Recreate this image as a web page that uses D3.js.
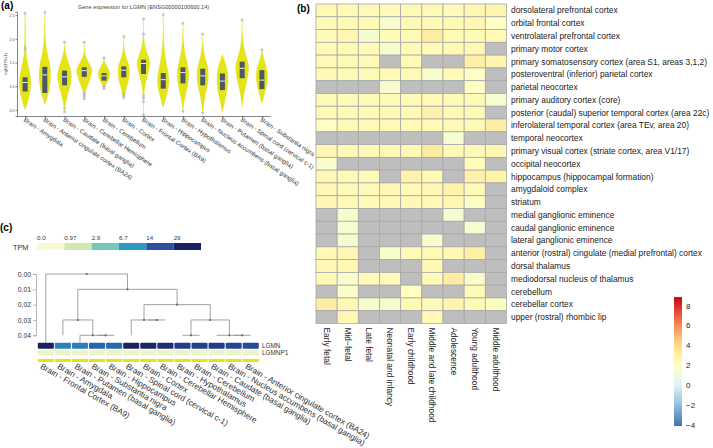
<!DOCTYPE html>
<html><head><meta charset="utf-8">
<script src="https://cdn.jsdelivr.net/npm/d3@7"></script>
<style>body{margin:0;background:#fff}svg{display:block;font-family:"Liberation Sans",Arial,sans-serif}</style>
</head><body><svg id="c" width="713" height="448"></svg>
<script>
// ---------- (a) violin data ----------
const violinTissues = ["Brain - Amygdala","Brain - Anterior cingulate cortex (BA24)","Brain - Caudate (basal ganglia)","Brain - Cerebellar Hemisphere","Brain - Cerebellum","Brain - Cortex","Brain - Frontal Cortex (BA9)","Brain - Hippocampus","Brain - Hypothalamus","Brain - Nucleus accumbens (basal ganglia)","Brain - Putamen (basal ganglia)","Brain - Spinal cord (cervical c-1)","Brain - Substantia nigra"];
const violinDensity = [
 [[2.55,0],[2.2,0.04],[1.9,0.07],[1.6,0.2],[1.45,0.39],[1.3,0.58],[1.1,0.74],[0.9,0.65],[0.75,0.45],[0.6,0.2],[0.5,0]],
 [[2.55,0],[2.2,0.05],[1.9,0.13],[1.7,0.32],[1.5,0.58],[1.3,0.74],[1.1,0.71],[0.9,0.52],[0.75,0.26],[0.62,0]],
 [[1.93,0],[1.75,0.1],[1.55,0.39],[1.4,0.71],[1.25,0.88],[1.05,0.78],[0.85,0.45],[0.65,0.16],[0.46,0]],
 [[1.93,0],[1.7,0.08],[1.55,0.39],[1.42,0.84],[1.32,1.0],[1.2,0.84],[1.05,0.52],[0.9,0.19],[0.72,0]],
 [[1.6,0],[1.5,0.13],[1.4,0.45],[1.3,0.71],[1.2,0.71],[1.1,0.45],[1.0,0.13],[0.93,0]],
 [[2.05,0],[1.8,0.06],[1.6,0.32],[1.45,0.65],[1.32,0.75],[1.15,0.65],[0.95,0.32],[0.8,0.13],[0.72,0]],
 [[2.42,0],[2.1,0.04],[1.85,0.19],[1.65,0.58],[1.5,0.82],[1.35,0.71],[1.2,0.45],[1.0,0.19],[0.8,0.06],[0.4,0]],
 [[2.5,0],[2.1,0.04],[1.8,0.13],[1.5,0.39],[1.3,0.62],[1.1,0.74],[0.9,0.58],[0.7,0.26],[0.55,0]],
 [[2.33,0],[2.0,0.05],[1.7,0.26],[1.5,0.52],[1.3,0.74],[1.1,0.68],[0.9,0.45],[0.7,0.19],[0.47,0]],
 [[2.1,0],[1.85,0.06],[1.6,0.32],[1.4,0.65],[1.2,0.74],[1.0,0.58],[0.8,0.32],[0.6,0.13],[0.4,0]],
 [[1.68,0],[1.6,0.13],[1.45,0.45],[1.3,0.65],[1.1,0.71],[0.9,0.58],[0.7,0.32],[0.55,0.13],[0.45,0]],
 [[2.4,0],[2.1,0.04],[1.8,0.26],[1.6,0.58],[1.4,0.84],[1.2,0.71],[1.0,0.45],[0.8,0.19],[0.57,0]],
 [[1.77,0],[1.65,0.13],[1.5,0.39],[1.35,0.65],[1.2,0.74],[1.0,0.58],[0.8,0.26],[0.63,0]]
];
const violinQ1 =     [0.89,0.86,1.02,1.20,1.12,1.19,1.26,0.95,1.06,1.02,0.92,1.17,0.94];
const violinMedian = [1.08,1.24,1.20,1.33,1.22,1.34,1.48,1.14,1.29,1.22,1.11,1.38,1.13];
const violinQ3 =     [1.19,1.41,1.33,1.40,1.28,1.42,1.56,1.28,1.40,1.37,1.27,1.52,1.34];
const violinOutliers = [[2.54,1.82,1.78],[2.56],[1.93,0.53,0.46],[1.93,0.85,0.82,0.78,0.73],[1.6,1.0,0.97,0.95],[2.05,0.85,0.8,0.77],[2.42,2.1,0.8,0.75,0.68,0.4],[2.51],[2.33,0.47],[2.1,0.44],[],[2.4],[1.77]];
const yTicksA = [0.5,1.0,1.5,2.0,2.5];

// ---------- (b) heatmap data ----------
const devStages = ["Early fetal","Mid\u2212fetal","Late fetal","Neonatal and infancy","Early childhood","Middle and late childhood","Adolescence","Young adulthood","Middle adulthood"];
const brainRegions = ["dorsolateral prefrontal cortex","orbital frontal cortex","ventrolateral prefrontal cortex","primary motor cortex","primary somatosensory cortex (area S1, areas 3,1,2)","posteroventral (inferior) parietal cortex","parietal neocortex","primary auditory cortex (core)","posterior (caudal) superior temporal cortex (area 22c)","inferolateral temporal cortex (area TEv, area 20)","temporal neocortex","primary visual cortex (striate cortex, area V1/17)","occipital neocortex","hippocampus (hippocampal formation)","amygdaloid complex","striatum","medial ganglionic eminence","caudal ganglionic eminence","lateral ganglionic eminence","anterior (rostral) cingulate (medial prefrontal) cortex","dorsal thalamus","mediodorsal nucleus of thalamus","cerebellum","cerebellar cortex","upper (rostral) rhombic lip"];
const N = null;
const heatValues = [
 [2.4,2.3,2.4,2.3,2.4,2.4,2.3,2.6,2.7],
 [2.3,2.4,2.3,1.4,2.4,2.3,2.4,2.5,1.9],
 [2.3,2.6,1.3,2.3,2.4,3.2,2.4,2.4,2.4],
 [2.3,2.4,2.3,1.5,2.4,2.3,2.4,2.5,N],
 [2.4,2.4,2.4,N,2.4,N,N,3.0,2.7],
 [2.3,2.4,2.4,2.4,2.4,1.5,2.4,1.8,N],
 [N,N,N,1.4,N,N,N,1.9,N],
 [2.4,2.3,2.4,2.3,2.4,2.4,2.4,2.4,1.4],
 [2.4,2.4,2.4,2.4,2.4,2.9,2.4,2.4,N],
 [1.8,2.4,2.4,2.4,2.4,2.4,2.4,2.4,3.1],
 [N,N,N,N,N,N,1.4,N,N],
 [2.5,2.4,2.4,2.4,2.4,3.3,2.4,2.4,2.6],
 [1.6,N,N,N,N,N,N,2.2,N],
 [2.5,2.4,2.4,N,2.8,2.4,N,2.9,2.8],
 [2.5,2.4,2.4,2.5,2.4,2.5,2.8,2.4,N],
 [2.5,2.4,2.3,2.4,2.5,2.4,2.6,1.9,N],
 [N,1.5,N,N,N,N,1.4,N,N],
 [N,1.4,N,N,N,N,N,1.4,N],
 [N,1.4,N,N,N,1.5,N,N,N],
 [2.4,2.5,N,1.6,2.4,2.4,2.5,3.0,N],
 [2.4,2.4,N,N,N,2.4,N,N,N],
 [2.4,1.6,2.3,2.3,N,2.4,3.2,1.7,N],
 [N,1.6,N,N,2.0,N,N,2.4,N],
 [3.1,2.4,1.5,1.5,2.4,2.3,2.7,2.4,1.9],
 [N,2.5,N,N,N,2.4,N,N,N]
];
const colorbarTicks = [8,6,4,2,0,-2,-4];

// ---------- (c) data ----------
const tpmBreaks = [0,0.97,2.9,6.7,14,29];
const tpmLabels = ["0.0","0.97","2.9","6.7","14","29"];
const dendroLeaves = ["Brain - Frontal Cortex (BA9)","Brain - Amygdala","Brain - Putamen (basal ganglia)","Brain - Substantia nigra","Brain - Hippocampus","Brain - Spinal cord (cervical c-1)","Brain - Cortex","Brain - Cerebellar Hemisphere","Brain - Hypothalamus","Brain - Cerebellum","Brain - Caudate (basal ganglia)","Brain - Nucleus accumbens (basal ganglia)","Brain - Anterior cingulate cortex (BA24)"];
const lgmnTPM =   [36,9,9.5,12,11.5,31,28,25,20,19,20,17,16];
const lgmnp1TPM = [0.3,0.3,0.3,0.3,0.3,0.3,0.3,0.3,0.3,0.3,0.3,0.3,0.3];
const geneRows = ["LGMN","LGMNP1"];
const dendroTicks = [0,0.01,0.02,0.03,0.04];
const dendroTree = {h:0, children:[
  {leaf:0, end:0.0448},
  {h:0.01, children:[
    {h:0.03, children:[
      {leaf:1, end:0.04},
      {h:0.04, children:[{leaf:2, end:0.0448},{h:0.04, children:[{leaf:3,end:0.04},{leaf:4,end:0.04}]}]}
    ]},
    {h:0.02, children:[
      {h:0.03, children:[{leaf:5,end:0.04},{h:0.03, children:[{leaf:6,end:0.03},{leaf:7,end:0.03}]}]},
      {h:0.03, children:[
        {h:0.04, children:[{leaf:8,end:0.04},{leaf:9,end:0.04}]},
        {h:0.04, children:[{leaf:10,end:0.04},{h:0.04, children:[{leaf:11,end:0.04},{leaf:12,end:0.04}]}]}
      ]}
    ]}
  ]}
]};

// ================= drawing =================
const svg = d3.select("#c");
const txt = "#222";

// ---- panel (a)
svg.append("text").attr("x",1).attr("y",9).attr("font-size",10).attr("font-weight","bold").text("(a)");
svg.append("text").attr("x",143.5).attr("y",9).attr("text-anchor","middle").attr("font-size",5.6).attr("fill","#444")
  .text("Gene expression for LGMN (ENSG00000100600.14)");
const yA = d3.scaleLinear().domain([0.373,2.574]).range([116,11.7]);
const xA = d3.scalePoint().domain(violinTissues).range([17,270]).padding(0.41);
const wA = d3.scaleLinear().domain([0,1]).range([0,7.7]);
const gA = svg.append("g");
const area = d3.area().curve(d3.curveCatmullRom.alpha(0.5)).y(d=>yA(d[0]));
violinTissues.forEach((t,i)=>{
  const cx = xA(t);
  gA.append("path").datum(violinDensity[i])
    .attr("d", area.x0(d=>cx-wA(d[1])).x1(d=>cx+wA(d[1])))
    .attr("fill","#e4e416").attr("stroke","#d8d820").attr("stroke-width",0.3);
  gA.append("rect").attr("x",cx-2.5).attr("width",5)
    .attr("y",yA(violinQ3[i])).attr("height",yA(violinQ1[i])-yA(violinQ3[i])).attr("fill","#4d5960");
  gA.append("line").attr("x1",cx-2.5).attr("x2",cx+2.5).attr("y1",yA(violinMedian[i])).attr("y2",yA(violinMedian[i]))
    .attr("stroke","#fff").attr("stroke-width",0.9);
  gA.selectAll(null).data(violinOutliers[i]).join("circle")
    .attr("cx",cx).attr("cy",d=>yA(d)).attr("r",1.1).attr("fill","#d0d0d0").attr("stroke","#999").attr("stroke-width",0.4);
});
const axY = gA.append("g").attr("transform","translate(17,0)")
  .call(d3.axisLeft(yA).tickValues(yTicksA).tickSize(1.5).tickPadding(1).tickFormat(d3.format(".1f")));
axY.selectAll("text").attr("font-size",3.6).attr("fill","#444");
axY.selectAll("line,path").attr("stroke","#333").attr("stroke-width",0.6);
svg.append("text").attr("transform","translate(7,64) rotate(-90)").attr("text-anchor","middle")
  .attr("font-size",3.4).attr("fill","#444").text("log10(TPM+1)");
const axX = gA.append("g").attr("transform","translate(0,116)")
  .call(d3.axisBottom(xA).tickSize(2).tickSizeOuter(0).tickFormat(""));
axX.selectAll("line,path").attr("stroke","#333").attr("stroke-width",0.6);
gA.selectAll(".xl").data(violinTissues).join("text")
  .attr("transform",d=>`translate(${xA(d)-1},${119.5}) rotate(34)`)
  .attr("font-size",6.1).attr("fill","#333").attr("dominant-baseline","middle").text(d=>d);

// ---- panel (b)
svg.append("text").attr("x",297).attr("y",12).attr("font-size",10).attr("font-weight","bold").text("(b)");
const xB = d3.scaleBand().domain(devStages).range([316,506.5]);
const yB = d3.scaleBand().domain(brainRegions).range([4,323.5]);
const heatColor = d3.scaleLinear().domain([-4,-2,0,2,4,6,8])
  .range(["#4575b4","#91bfdb","#e0f3f8","#ffffbf","#fee090","#fc8d59","#d73027"]);
const cells = [];
brainRegions.forEach((r,i)=>devStages.forEach((s,j)=>cells.push({r,s,v:heatValues[i][j]})));
svg.append("g").selectAll("rect").data(cells).join("rect")
  .attr("x",d=>xB(d.s)).attr("y",d=>yB(d.r)).attr("width",xB.bandwidth()).attr("height",yB.bandwidth())
  .attr("fill",d=>d.v==null?"#bebebe":heatColor(d.v)).attr("stroke","#a8a8a8").attr("stroke-width",0.8);
svg.append("g").selectAll("text").data(brainRegions).join("text")
  .attr("x",511).attr("y",d=>yB(d)+yB.bandwidth()/2).attr("dominant-baseline","central")
  .attr("font-size",8.4).attr("fill",txt).text(d=>d);
svg.append("g").selectAll("text").data(devStages).join("text")
  .attr("transform",d=>`translate(${xB(d)+xB.bandwidth()/2},327.5) rotate(90)`).attr("dominant-baseline","central")
  .attr("font-size",8.4).attr("fill",txt).text(d=>d);
const cb = d3.scaleLinear().domain([-4,8]).range([425,306]);
const defs = svg.append("defs");
const grad = defs.append("linearGradient").attr("id","cbg").attr("x1",0).attr("x2",0).attr("y1",1).attr("y2",0);
const cbLo = -4.1, cbHi = 8.9;
d3.range(0,1.0001,0.05).forEach(t=>{
  grad.append("stop").attr("offset",t).attr("stop-color",heatColor(cbLo+t*(cbHi-cbLo)));
});
svg.append("rect").attr("x",674).attr("width",8).attr("y",cb(cbHi)).attr("height",cb(cbLo)-cb(cbHi)).attr("fill","url(#cbg)");
svg.append("g").selectAll("text").data(colorbarTicks).join("text")
  .attr("x",686).attr("y",d=>cb(d)).attr("dominant-baseline","central").attr("font-size",8).attr("fill",txt)
  .text(d=>d<0?"\u2212"+Math.abs(d):d);

// ---- panel (c)
svg.append("text").attr("x",0).attr("y",231).attr("font-size",10).attr("font-weight","bold").text("(c)");
const legendColors = ["#f8f9d2","#d3e8ad","#74c9bc","#2e99c5","#2950a2","#1b2261"];
svg.append("text").attr("x",13).attr("y",249.5).attr("font-size",7.3).attr("fill","#333").text("TPM");
const xLeg = d3.scaleBand().domain(tpmLabels).range([37,201]);
svg.append("g").selectAll("rect").data(tpmLabels).join("rect")
  .attr("x",d=>xLeg(d)).attr("y",243).attr("width",xLeg.bandwidth()).attr("height",7).attr("fill",(d,i)=>legendColors[i]);
svg.append("g").selectAll("text").data(tpmLabels).join("text")
  .attr("x",d=>xLeg(d)).attr("y",239.5).attr("font-size",6.2).attr("fill","#333").text(d=>d);
const tpmColor = d3.scaleLinear().domain(tpmBreaks).range(legendColors).clamp(true);

const yD = d3.scaleLinear().domain([0,0.04]).range([274,335.3]);
const xD = d3.scaleBand().domain(dendroLeaves).range([37.3,259.3]);
const leafX = i => xD(dendroLeaves[i]) + xD.bandwidth()/2;
const axD = svg.append("g").attr("transform","translate(36,0)")
  .call(d3.axisLeft(yD).tickValues(dendroTicks).tickSize(3).tickPadding(2).tickFormat(d3.format(".2f")));
axD.selectAll("text").attr("font-size",6.8).attr("fill","#333");
axD.selectAll("line,path").attr("stroke","#999").attr("stroke-width",0.7);

const gD = svg.append("g");
const nodes = [];
function layout(n){
  if(n.leaf!==undefined){ n.x = leafX(n.leaf); n.y = n.end; return; }
  n.children.forEach(layout);
  n.x = d3.mean(n.children, c=>c.x);
  n.y = n.h;
  nodes.push(n);
}
layout(dendroTree);
nodes.forEach(n=>{
  const xs = n.children.map(c=>c.x);
  gD.append("line").attr("x1",d3.min(xs)).attr("x2",d3.max(xs)).attr("y1",yD(n.h)).attr("y2",yD(n.h));
  n.children.forEach(c=>{
    gD.append("line").attr("x1",c.x).attr("x2",c.x).attr("y1",yD(n.h)).attr("y2",yD(c.y));
  });
});
gD.selectAll("line").attr("stroke","#8a8a8a").attr("stroke-width",0.8);
gD.selectAll("circle").data(nodes).join("circle").attr("cx",d=>d.x).attr("cy",d=>yD(d.h)).attr("r",1.1).attr("fill","#666");

const geneVals = [lgmnTPM, lgmnp1TPM];
const stripY = [342.7, 350];
const stripH = [6, 5.5];
geneRows.forEach((g,k)=>{
  svg.append("g").selectAll("rect").data(dendroLeaves).join("rect")
    .attr("x",d=>xD(d)+0.5).attr("y",stripY[k]).attr("width",xD.bandwidth()-1).attr("height",stripH[k])
    .attr("rx",1).attr("fill",(d,i)=>tpmColor(geneVals[k][i]));
  svg.append("text").attr("x",262).attr("y",stripY[k]+stripH[k]/2).attr("dominant-baseline","central")
    .attr("font-size",6.4).attr("fill","#333").text(g);
});
svg.append("g").selectAll("rect").data(dendroLeaves).join("rect")
  .attr("x",d=>xD(d)+0.5).attr("y",359).attr("width",xD.bandwidth()-1).attr("height",3).attr("fill","#e6e600");
svg.append("g").selectAll("text").data(dendroLeaves).join("text")
  .attr("transform",(d,i)=>`translate(${leafX(i)-5},366) rotate(30)`).attr("dominant-baseline","middle")
  .attr("font-size",8.2).attr("fill","#333").text(d=>d);
</script></body></html>
